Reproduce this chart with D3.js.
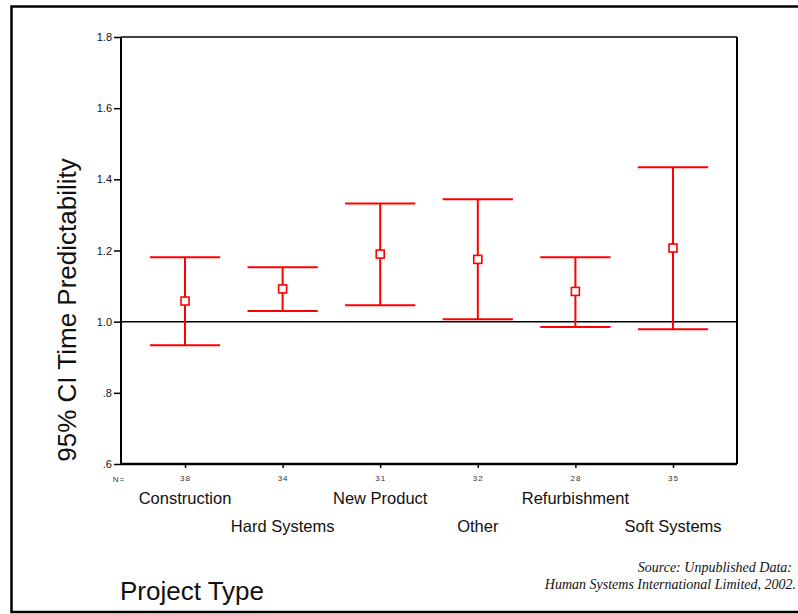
<!DOCTYPE html>
<html>
<head>
<meta charset="utf-8">
<script src="https://cdn.jsdelivr.net/npm/d3@7"></script>
<style>
  body { margin: 0; background: #fff; }
  text { font-family: "Liberation Sans", Arial, sans-serif; }
</style>
</head>
<body>
<div id="container"></div>
<script>
/* CONSTANTS AND GLOBALS */
const width = 798,
  height = 614;
const plot = { left: 121, right: 737, top: 37, bottom: 464 };

/* DATA */
const categories = ['Construction', 'Hard Systems', 'New Product', 'Other', 'Refurbishment', 'Soft Systems'];
const nCounts = [38, 34, 31, 32, 28, 35];
const means = [1.058, 1.092, 1.190, 1.175, 1.085, 1.207];
const lower = [0.934, 1.030, 1.046, 1.007, 0.985, 0.979];
const upper = [1.181, 1.153, 1.332, 1.344, 1.181, 1.434];
const yTicks = [0.6, 0.8, 1.0, 1.2, 1.4, 1.6, 1.8];
const yTickLabels = ['.6', '.8', '1.0', '1.2', '1.4', '1.6', '1.8'];
const refValue = 1.0;

const rows = categories.map((c, i) => ({
  cat: c, n: nCounts[i], mean: means[i], lo: lower[i], hi: upper[i], i
}));

// SCALES
const xScale = d3.scalePoint()
  .domain(categories)
  .range([plot.left, plot.right])
  .padding(0.656);

const yScale = d3.scaleLinear()
  .domain([0.6, 1.8])
  .range([plot.bottom, plot.top]);

const capHalf = xScale.step() * 0.36;

// CREATE SVG ELEMENT
const svg = d3.select('#container')
  .append('svg')
  .attr('width', width)
  .attr('height', height);

// outer frame (right edge falls off the picture)
svg.append('rect')
  .attr('x', 11.5).attr('y', 6.5)
  .attr('width', 800).attr('height', 605.5)
  .attr('fill', 'none')
  .attr('stroke', '#000')
  .attr('stroke-width', 2.5);

// AXES
const yAxis = d3.axisLeft(yScale)
  .tickValues(yTicks)
  .tickFormat((d, i) => yTickLabels[i])
  .tickSize(7)
  .tickSizeOuter(0)
  .tickPadding(2);

const gy = svg.append('g')
  .attr('transform', `translate(${plot.left}, 0)`)
  .call(yAxis);
gy.select('.domain').remove();
gy.selectAll('line').attr('stroke-width', 1.5);
gy.selectAll('text').attr('font-size', 11).attr('fill', '#111');

const xAxis = d3.axisBottom(xScale)
  .tickFormat((d, i) => nCounts[i])
  .tickSize(4)
  .tickSizeOuter(0)
  .tickPadding(7);

const gx = svg.append('g')
  .attr('transform', `translate(0, ${plot.bottom})`)
  .call(xAxis);
gx.select('.domain').remove();
gx.selectAll('line').attr('stroke-width', 1.5);
gx.selectAll('text').attr('font-size', 8).attr('letter-spacing', 1).attr('fill', '#333');

svg.append('text')
  .attr('x', 119).attr('y', 482)
  .attr('text-anchor', 'middle')
  .attr('font-size', 8)
  .attr('letter-spacing', 1)
  .attr('fill', '#333')
  .text('N=');

// plot box
const box = svg.append('g').attr('stroke', '#000').attr('fill', 'none');
box.append('line').attr('x1', plot.left).attr('x2', plot.right).attr('y1', plot.top).attr('y2', plot.top).attr('stroke-width', 1.5);
box.append('line').attr('x1', plot.right).attr('x2', plot.right).attr('y1', plot.top).attr('y2', plot.bottom).attr('stroke-width', 2);
box.append('line').attr('x1', plot.left).attr('x2', plot.left).attr('y1', plot.top).attr('y2', plot.bottom + 1).attr('stroke-width', 2);
box.append('line').attr('x1', plot.left).attr('x2', plot.right).attr('y1', plot.bottom).attr('y2', plot.bottom).attr('stroke-width', 2.5);

// reference line at 1.0
svg.append('line')
  .attr('x1', plot.left).attr('x2', plot.right)
  .attr('y1', yScale(refValue)).attr('y2', yScale(refValue))
  .attr('stroke', '#000')
  .attr('stroke-width', 1.5);

// category labels, staggered on two rows
svg.selectAll('.cat')
  .data(rows)
  .join('text')
  .attr('class', 'cat')
  .attr('x', d => xScale(d.cat))
  .attr('y', d => d.i % 2 === 0 ? 504 : 532)
  .attr('text-anchor', 'middle')
  .attr('font-size', 16.5)
  .attr('fill', '#111')
  .text(d => d.cat);

// ERROR BARS
const bars = svg.selectAll('.bar')
  .data(rows)
  .join('g')
  .attr('class', 'bar')
  .attr('stroke', '#ff0000')
  .attr('stroke-width', 2);

bars.append('line')
  .attr('x1', d => xScale(d.cat)).attr('x2', d => xScale(d.cat))
  .attr('y1', d => yScale(d.lo)).attr('y2', d => yScale(d.hi));
bars.append('line')
  .attr('x1', d => xScale(d.cat) - capHalf).attr('x2', d => xScale(d.cat) + capHalf)
  .attr('y1', d => yScale(d.hi)).attr('y2', d => yScale(d.hi));
bars.append('line')
  .attr('x1', d => xScale(d.cat) - capHalf).attr('x2', d => xScale(d.cat) + capHalf)
  .attr('y1', d => yScale(d.lo)).attr('y2', d => yScale(d.lo));
bars.append('rect')
  .attr('x', d => xScale(d.cat) - 4).attr('y', d => yScale(d.mean) - 4)
  .attr('width', 8).attr('height', 8)
  .attr('fill', '#fff')
  .attr('stroke-width', 1.6);

// TITLES
svg.append('text')
  .attr('transform', 'translate(76, 310) rotate(-90)')
  .attr('text-anchor', 'middle')
  .attr('font-size', 26)
  .attr('fill', '#111')
  .text('95% CI Time Predictability');

svg.append('text')
  .attr('x', 120).attr('y', 600)
  .attr('font-size', 26)
  .attr('fill', '#111')
  .text('Project Type');

const src = svg.append('g')
  .attr('font-family', '"Liberation Serif", "Times New Roman", serif')
  .attr('font-style', 'italic')
  .attr('font-size', 14)
  .attr('text-anchor', 'end')
  .attr('fill', '#111');
src.append('text').attr('x', 792).attr('y', 572).style('font-family', 'inherit').text('Source: Unpublished Data:');
src.append('text').attr('x', 796).attr('y', 589).style('font-family', 'inherit').text('Human Systems International Limited, 2002.');
</script>
</body>
</html>
